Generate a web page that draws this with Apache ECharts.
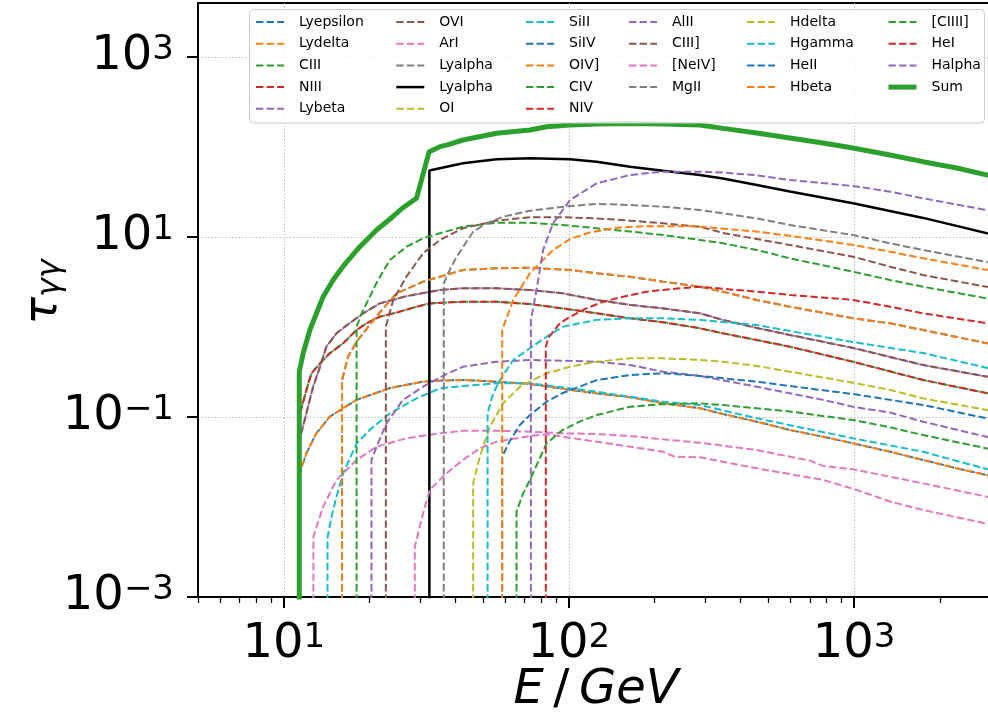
<!DOCTYPE html>
<html>
<head>
<meta charset="utf-8">
<title>tau_gamma_gamma vs E</title>
<script src="https://cdn.jsdelivr.net/npm/echarts@6/dist/echarts.min.js"></script>
<style>
  html, body { margin: 0; padding: 0; background: #ffffff; }
  #chart { width: 988px; height: 719px; }
</style>
</head>
<body>
<div id="chart"></div>
<script>
// Optical depth tau_gg(E) for each broad line, [E in GeV, tau] pairs.
// Every curve starts at its threshold energy (first pair).
const lyEpsilon = [[11.35,0.0237],[12.0,0.0395],[13.0,0.0659],[14.5,0.101],[16.15,0.125],[18.0,0.155],[21.7,0.191],[23.6,0.210],[30.8,0.247],[34.7,0.253],[42.5,0.258],[55.8,0.247],[73,0.233],[98,0.203],[125,0.183],[164,0.166],[214,0.142],[288,0.125],[347,0.108],[456,0.0887],[596,0.0717],[778,0.0604],[992,0.051],[1338,0.0411],[1747,0.0333],[2293,0.0269],[3000,0.0222]];
const lyDelta   = [[11.35,0.0237],[12.0,0.0395],[13.0,0.0659],[14.5,0.101],[16.15,0.125],[18.0,0.155],[21.7,0.191],[23.6,0.210],[30.8,0.247],[34.7,0.253],[42.5,0.258],[55.8,0.247],[73,0.233],[98,0.203],[125,0.183],[164,0.166],[214,0.142],[288,0.125],[347,0.108],[456,0.0887],[596,0.0717],[778,0.0604],[992,0.051],[1338,0.0411],[1747,0.0333],[2293,0.0269],[3000,0.0222]];
const cIII      = [[11.35,0.103],[12.0,0.2],[12.5,0.306],[13.4,0.395],[14.5,0.51],[16.15,0.659],[18.0,0.926],[19.5,1.10],[21.7,1.30],[24.9,1.45],[28.8,1.66],[32.5,1.83],[42.5,1.91],[55.8,1.91],[73,1.80],[95,1.61],[125,1.42],[164,1.25],[214,1.13],[288,0.968],[347,0.851],[456,0.717],[596,0.604],[992,0.411],[1747,0.258],[3000,0.181]];
const nIII      = [[11.35,0.103],[12.0,0.2],[12.5,0.306],[13.4,0.395],[14.5,0.51],[16.15,0.659],[18.0,0.926],[19.5,1.10],[21.7,1.30],[24.9,1.45],[28.8,1.66],[32.5,1.83],[42.5,1.91],[55.8,1.91],[73,1.80],[95,1.61],[125,1.42],[164,1.25],[214,1.13],[288,0.968],[347,0.851],[456,0.717],[596,0.604],[992,0.411],[1747,0.258],[3000,0.181]];
const lyBeta    = [[11.35,0.0555],[12.0,0.110],[12.67,0.217],[13.4,0.362],[14.1,0.604],[15.3,0.851],[17.0,1.10],[19.0,1.42],[21.7,1.83],[26.9,2.2],[35.3,2.58],[42.5,2.69],[55.8,2.69],[73,2.58],[95,2.37],[125,2.0],[164,1.76],[214,1.61],[288,1.42],[347,1.20],[456,0.975],[596,0.815],[992,0.585],[1747,0.378],[3000,0.277]];
const oVI       = [[11.35,0.0555],[12.0,0.110],[12.67,0.217],[13.4,0.362],[14.1,0.604],[15.3,0.851],[17.0,1.10],[19.0,1.42],[21.7,1.83],[26.9,2.2],[35.3,2.58],[42.5,2.69],[55.8,2.69],[73,2.58],[95,2.37],[125,2.0],[164,1.76],[214,1.61],[288,1.42],[347,1.20],[456,0.975],[596,0.815],[992,0.585],[1747,0.378],[3000,0.277]];
const arI       = [[12.7,0.00468],[13.74,0.0101],[15.3,0.02],[18.0,0.0333],[21.15,0.0468],[26.9,0.058],[35.3,0.0659],[42.5,0.0704],[55.8,0.0704],[73,0.0687],[95,0.0659],[125,0.0647],[164,0.0615],[214,0.0565],[288,0.0518],[456,0.043],[701,0.0327],[778,0.0286],[992,0.0262],[1338,0.0217],[1747,0.0183],[3000,0.0128]];
const lyAlphaLine = [];
const lyAlphaTotal = [[32.4,54.8],[42.5,65.9],[55.8,73.0],[73,74.9],[101,73.0],[125,68.7],[164,60.4],[214,54.5],[288,48.9],[347,44.7],[456,37.8],[596,32.0],[992,23.7],[1750,16.3],[3000,10.8]];
const oI        = [];
const siII      = [[14.23,0.00453],[14.7,0.0078],[15.3,0.013],[16.15,0.0237],[18.0,0.051],[20.3,0.0749],[23.6,0.110],[29.2,0.161],[35.3,0.208],[42.5,0.221],[55.8,0.237],[73,0.237],[125,0.191],[214,0.148],[288,0.136],[456,0.0967],[992,0.058],[1747,0.0411],[3000,0.0258]];
const siIV      = [[16.0,0.258],[16.8,0.468],[18.0,0.687],[20.0,1.05],[21.7,1.45],[24.9,2.37],[30.8,3.19],[35.3,3.62],[42.5,4.30],[55.8,4.49],[73,4.56],[101,4.30],[125,3.95],[164,3.62],[214,3.19],[288,2.80],[347,2.47],[456,2.0],[596,1.68],[992,1.25],[1338,1.10],[1747,0.926],[3000,0.65]];
const oIV       = [[16.0,0.258],[16.8,0.468],[18.0,0.687],[20.0,1.05],[21.7,1.45],[24.9,2.37],[30.8,3.19],[35.3,3.62],[42.5,4.30],[55.8,4.49],[73,4.56],[101,4.30],[125,3.95],[164,3.62],[214,3.19],[288,2.80],[347,2.47],[456,2.0],[596,1.68],[992,1.25],[1338,1.10],[1747,0.926],[3000,0.65]];
const cIV       = [[18.0,1.01],[18.75,1.42],[20.04,2.17],[21.15,3.1],[23.55,5.55],[26.94,7.80],[30.82,9.68],[35.27,11.0],[42.5,13.0],[55.8,14.4],[73,14.4],[95,13.6],[125,12.5],[164,11.5],[214,10.5],[288,9.27],[347,8.51],[456,7.17],[596,5.80],[992,4.12],[1338,3.33],[1747,2.80],[3000,2.05]];
const nIV       = [];
const alII      = [[20.3,0.0333],[21.15,0.0468],[22.9,0.0851],[26.2,0.155],[30.8,0.217],[34.9,0.27],[37.2,0.30],[42.5,0.362],[55.8,0.411],[73,0.430],[95,0.422],[125,0.411],[164,0.378],[214,0.319],[288,0.286],[456,0.217],[778,0.155],[992,0.130],[1338,0.112],[1747,0.0887],[3000,0.059]];
const cIIIs     = [[22.8,1.01],[24.2,2.0],[26.9,3.62],[30.8,6.59],[35.3,9.27],[37.2,10.1],[42.5,12.5],[55.8,15.2],[73,16.6],[95,16.6],[125,16.1],[164,15.2],[214,14.2],[288,13.0],[347,11.1],[456,9.5],[596,8.15],[992,6.04],[1338,4.68],[1747,3.78],[3000,2.75]];
const neIV      = [[28.8,0.00362],[30.8,0.0085],[32.5,0.0155],[37.2,0.0237],[42.5,0.0333],[48.7,0.0449],[55.8,0.0532],[73,0.0615],[83.5,0.0643],[95,0.0604],[125,0.0532],[164,0.0468],[214,0.0411],[235,0.0362],[288,0.0357],[456,0.0269],[778,0.02],[1022,0.0155],[1338,0.0115],[1747,0.00926],[3000,0.0064]];
const mgII      = [[36.4,3.06],[37.7,3.95],[39.8,5.55],[42.6,7.8],[46.2,11.5],[51.4,14.2],[58.8,16.8],[73,19.6],[101,22.1],[125,23.3],[164,22.7],[214,21.7],[288,20.0],[456,16.1],[596,13.6],[992,10.5],[1338,8.51],[1747,7.17],[3000,5.2]];
const hDelta    = [[46.15,0.0183],[48.7,0.0362],[52.8,0.078],[58.8,0.142],[67.3,0.217],[83.5,0.306],[101,0.362],[125,0.411],[164,0.449],[214,0.449],[288,0.43],[347,0.411],[456,0.369],[596,0.319],[992,0.24],[1338,0.2],[1747,0.161],[3000,0.118]];
const hGamma    = [[51.85,0.110],[54.25,0.183],[57.3,0.258],[63.8,0.43],[73,0.58],[83.5,0.78],[95.4,1.01],[125,1.20],[164,1.25],[214,1.25],[288,1.20],[456,1.05],[992,0.68],[1747,0.514],[3000,0.345]];
const heII      = [[58.34,0.0362],[62.3,0.0555],[67.3,0.0815],[73,0.105],[83.5,0.148],[95.3,0.185],[109,0.217],[125,0.257],[164,0.293],[214,0.306],[288,0.286],[456,0.247],[596,0.221],[992,0.180],[1747,0.136],[3000,0.095]];
const hBeta     = [[58.34,0.926],[63.8,2.0],[73,3.95],[79,5.1],[88,7.17],[101,9.5],[118,11.2],[147,12.7],[187,13.2],[250,13.2],[288,13.0],[456,11.5],[596,10.3],[992,8.15],[1338,6.87],[1747,5.8],[3000,4.25]];
const cIIII     = [[65.5,0.00887],[69,0.014],[73,0.020],[83.5,0.051],[95,0.0717],[109,0.0887],[125,0.105],[164,0.130],[214,0.139],[288,0.142],[347,0.136],[456,0.125],[596,0.115],[992,0.0926],[1338,0.0769],[1747,0.063],[3000,0.044]];
const heI       = [[83.0,0.604],[84.5,0.749],[88.1,0.887],[93,1.10],[101,1.30],[115,1.61],[132,1.91],[155,2.17],[187,2.47],[245,2.69],[288,2.80],[456,2.47],[596,2.27],[992,2.0],[1338,1.68],[1747,1.42],[3000,1.09]];
const hAlpha    = [[73.56,1.20],[77,2.58],[81.2,7.17],[88,14.2],[101,25.8],[125,39.5],[164,48.9],[214,53.2],[288,53.2],[347,52],[456,48.5],[596,43.0],[992,36.9],[1338,31.9],[1747,26.9],[3000,19.6]];
const tauSum    = [[11.33,0.319],[11.69,0.51],[12.34,0.926],[13.02,1.42],[13.74,2.17],[14.89,3.33],[16.1,4.68],[18.48,7.80],[21.15,11.96],[24.1,16.8],[26.1,21.0],[29.2,26.9],[32.35,88.7],[35.3,100.8],[37.2,105],[42.5,119.6],[55.8,142],[73,154.5],[83.5,168],[101,175.5],[125,180],[164,183],[214,180],[288,175.5],[347,161],[456,143],[596,126],[778,110.8],[992,97.5],[1338,81.5],[1747,68.7],[2293,58.4],[3000,48]];

// Axis ranges and tick values
const xRange = [5, 3000];
const yRange = [1e-3, 3981.07];
const xMajorTicks = [10, 100, 1000];
const xMinorTicks = [5, 6, 7, 8, 9, 20, 30, 40, 50, 60, 70, 80, 90, 200, 300, 400, 500, 600, 700, 800, 900, 2000, 3000];
const yMajorTicks = [1e-3, 1e-1, 10, 1000];
const TAU_ZERO = 1e-6; // below the axis: drawn as the drop at threshold

const C = {
  blue: '#1f77b4', orange: '#ff7f0e', green: '#2ca02c', red: '#d62728', purple: '#9467bd',
  brown: '#8c564b', pink: '#e377c2', gray: '#7f7f7f', olive: '#bcbd22', cyan: '#17becf'
};

// name, data, colour, kind, dash offset
const lines = [
  ['Lyepsilon', lyEpsilon, C.blue, 'dash', 0],
  ['Lydelta', lyDelta, C.orange, 'dash', 2.5],
  ['CIII', cIII, C.green, 'dash', 0],
  ['NIII', nIII, C.red, 'dash', 2.5],
  ['Lybeta', lyBeta, C.purple, 'dash', 0],
  ['OVI', oVI, C.brown, 'dash', 2.5],
  ['ArI', arI, C.pink, 'dash', 0],
  ['Lyalpha', lyAlphaLine, C.gray, 'dash', 0],
  ['Lyalpha#total', lyAlphaTotal, '#000000', 'solid', 0],
  ['OI', oI, C.olive, 'dash', 0],
  ['SiII', siII, C.cyan, 'dash', 0],
  ['SiIV', siIV, C.blue, 'dash', 0],
  ['OIV]', oIV, C.orange, 'dash', 0],
  ['CIV', cIV, C.green, 'dash', 0],
  ['NIV', nIV, C.red, 'dash', 0],
  ['AlII', alII, C.purple, 'dash', 0],
  ['CIII]', cIIIs, C.brown, 'dash', 0],
  ['[NeIV]', neIV, C.pink, 'dash', 0],
  ['MgII', mgII, C.gray, 'dash', 0],
  ['Hdelta', hDelta, C.olive, 'dash', 0],
  ['Hgamma', hGamma, C.cyan, 'dash', 0],
  ['HeII', heII, C.blue, 'dash', 0],
  ['Hbeta', hBeta, C.orange, 'dash', 0],
  ['[CIIII]', cIIII, C.green, 'dash', 0],
  ['HeI', heI, C.red, 'dash', 0],
  ['Halpha', hAlpha, C.purple, 'dash', 0],
  ['Sum', tauSum, C.green, 'sum', 0]
];

const legendColumns = [
  ['Lyepsilon', 'Lydelta', 'CIII', 'NIII', 'Lybeta'],
  ['OVI', 'ArI', 'Lyalpha', 'Lyalpha#total', 'OI'],
  ['SiII', 'SiIV', 'OIV]', 'CIV', 'NIV'],
  ['AlII', 'CIII]', '[NeIV]', 'MgII'],
  ['Hdelta', 'Hgamma', 'HeII', 'Hbeta'],
  ['[CIIII]', 'HeI', 'Halpha', 'Sum']
];
const legendLeft = [255, 395, 525, 628, 746, 886];

const FONT = 'DejaVu Sans';

function withThreshold(pts) {
  if (!pts.length) return [];
  return [[pts[0][0], TAU_ZERO]].concat(pts);
}

function styleOf(color, kind, offset) {
  return kind === 'dash'
    ? { color, width: 2, type: [7.4, 3.2], dashOffset: offset }
    : { color, width: kind === 'sum' ? 5 : 2.5, type: 'solid' };
}

function powLabel(v) {
  const e = Math.round(Math.log10(v));
  const s = e < 0 ? '\u2212' + (-e) : String(e);
  return '{b|10}{s|' + s + '}';
}
const powRich = {
  b: { fontSize: 48, fontFamily: FONT, color: '#000', lineHeight: 48, verticalAlign: 'bottom' },
  s: { fontSize: 34, fontFamily: FONT, color: '#000', lineHeight: 34, verticalAlign: 'top', padding: [0, 0, 20, 0] }
};

const byName = {};
const series = lines.map(([name, data, color, kind, offset]) => {
  const lineStyle = styleOf(color, kind, offset);
  byName[name] = lineStyle;
  return {
    type: 'line', name, data: withThreshold(data), xAxisIndex: 0, yAxisIndex: 0,
    showSymbol: false, symbol: 'none', lineStyle, itemStyle: { color, opacity: 0 },
    clip: true, silent: true, animation: false, emphasis: { disabled: true }
  };
});

const legends = legendColumns.map((col, i) => ({
  orient: 'vertical', left: legendLeft[i], top: 15, padding: 0,
  itemWidth: 28, itemHeight: 14, itemGap: 7.7,
  selectedMode: false, z: 6,
  data: col.map(n => ({ name: n, lineStyle: Object.assign({}, byName[n], { dashOffset: 0 }), itemStyle: { opacity: 0 } })),
  itemStyle: { opacity: 0 },
  formatter: n => n.split('#')[0],
  textStyle: { fontFamily: FONT, fontSize: 14, color: '#000', lineHeight: 14, padding: [0, 0, 0, 10] }
}));

const italic = size => ({ fontSize: size, fontFamily: FONT, fontStyle: 'italic', fill: '#000' });

const chart = echarts.init(document.getElementById('chart'), null, { renderer: 'canvas' });
chart.setOption({
  animation: false,
  backgroundColor: '#ffffff',
  grid: { left: 198, top: 3, width: 792, height: 594, outerBoundsMode: 'none', containLabel: false,
    show: true, borderColor: '#000', borderWidth: 2, backgroundColor: 'transparent' },
  legend: legends,
  graphic: [{
    type: 'rect', z: 5, silent: true,
    shape: { x: 249.5, y: 9.5, width: 735, height: 113.5, r: 4 },
    style: { fill: 'rgba(255,255,255,0.8)', stroke: '#cccccc', lineWidth: 1 }
  }, {
    // x-axis title
    type: 'text', z: 10, silent: true, x: 596, y: 691,
    style: {
      text: '{i|E}{r|\u2009/\u2009}{i|GeV}', align: 'center', verticalAlign: 'middle',
      rich: { i: italic(48), r: { fontSize: 48, fontFamily: FONT, fill: '#000' } }
    }
  }, {
    // y-axis title
    type: 'text', z: 10, silent: true, x: 44, y: 292, rotation: Math.PI / 2,
    style: {
      text: '{t|\u03c4}{g|\u03b3\u03b3}', align: 'center', verticalAlign: 'middle',
      rich: {
        t: Object.assign(italic(46), { verticalAlign: 'top', lineHeight: 46 }),
        g: Object.assign(italic(32), { verticalAlign: 'bottom', lineHeight: 32, padding: [20, 0, 0, 0] })
      }
    }
  }],
  xAxis: [{
    type: 'log', logBase: 10, min: xRange[0], max: xRange[1], position: 'bottom',
    axisLine: { show: true, lineStyle: { color: '#000', width: 2 } },
    axisTick: { show: true, length: 11, customValues: xMajorTicks, lineStyle: { color: '#000', width: 2 } },
    axisLabel: { customValues: xMajorTicks, margin: 24, formatter: powLabel, rich: powRich },
    splitLine: { show: true, lineStyle: { color: '#b0b0b0', width: 1, type: [1.2, 2.2] } }
  }, {
    type: 'log', logBase: 10, min: xRange[0], max: xRange[1], position: 'bottom',
    axisLine: { show: false },
    axisTick: { show: true, length: 6, customValues: xMinorTicks, lineStyle: { color: '#000', width: 1.3 } },
    axisLabel: { show: false }, splitLine: { show: false }
  }],
  yAxis: [{
    type: 'log', logBase: 10, min: yRange[0], max: yRange[1], interval: 2,
    axisLine: { show: true, lineStyle: { color: '#000', width: 2 } },
    axisTick: { show: true, length: 11, customValues: yMajorTicks, lineStyle: { color: '#000', width: 2 } },
    axisLabel: { customValues: yMajorTicks, margin: 24, formatter: powLabel, rich: powRich },
    splitLine: { show: true, lineStyle: { color: '#b0b0b0', width: 1, type: [1.2, 2.2] } },
    minorTick: { show: false }
  }],
  series
});
</script>
</body>
</html>
